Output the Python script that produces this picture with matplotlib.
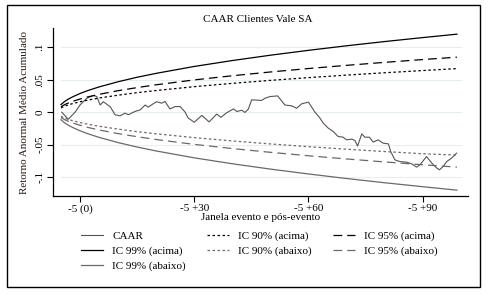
import matplotlib
matplotlib.use('Agg')
import matplotlib.pyplot as plt
from matplotlib.patches import Rectangle

plt.rcParams['font.family'] = ['Liberation Serif', 'DejaVu Serif']

# CAAR
caar_t = [-4.8, -3.1, -1.3, 0.0, 1.8, 3.5, 4.4, 5.3, 6.1, 7.9, 9.2, 10.5, 11.8, 12.7,
          14.4, 15.8, 17.1, 17.9, 19.2, 20.1, 21.5, 22.3, 23.6, 25.0, 26.3, 27.6,
          28.4, 30.0, 32.0, 33.9, 35.9, 37.0, 38.5, 40.3, 41.2, 42.5, 43.3, 44.2,
          45.1, 47.7, 48.6, 49.9, 51.9, 53.8, 55.6, 56.9, 58.2, 60.0, 61.7, 63.0,
          63.9, 65.2, 66.5, 67.8, 69.1, 70.0, 71.4, 72.2, 72.9, 74.0, 74.8, 76.0,
          77.0, 78.3, 79.6, 81.0, 81.6, 82.7, 84.0, 85.8, 87.1, 88.4, 89.3, 91.0,
          92.4, 93.7, 94.4, 95.4, 96.3, 97.6, 98.9]
caar = [0.0, -0.011, 0.0, 0.011, 0.0215, 0.0256, 0.024, 0.011, 0.016, 0.0086, -0.004,
        -0.0057, -0.0015, -0.004, 0.001, 0.0035, 0.011, 0.0077, 0.0128, 0.016, 0.0138,
        0.0165, 0.005, 0.0086, 0.0086, 0.0, -0.009, -0.0155, -0.005, -0.015, -0.003,
        -0.008, -0.001, 0.005, 0.001, 0.003, -0.0005, 0.0046, 0.019, 0.018, 0.0215,
        0.024, 0.025, 0.011, 0.0097, 0.006, 0.0128, 0.0154, 0.0, -0.009, -0.017,
        -0.0246, -0.0298, -0.0375, -0.0385, -0.0426, -0.0415, -0.0437, -0.052, -0.0334,
        -0.0385, -0.0385, -0.046, -0.0426, -0.0477, -0.0488, -0.0606, -0.0734, -0.076,
        -0.077, -0.0795, -0.0846, -0.081, -0.0683, -0.0784, -0.086, -0.0887, -0.0836,
        -0.076, -0.0707, -0.063]

# confidence bands
band_t = [-5, -4, -3, -2, 0, 2, 5, 10, 15, 20, 30, 40, 50, 60, 70, 80, 90, 99]
ic99_up = [0.0117, 0.0166, 0.0203, 0.0234, 0.0287, 0.0331, 0.0388, 0.0468, 0.0537,
           0.0597, 0.0703, 0.0794, 0.0876, 0.0951, 0.1021, 0.1086, 0.1147, 0.1200]
ic95_up = [0.0083, 0.0117, 0.0143, 0.0165, 0.0202, 0.0234, 0.0274, 0.0330, 0.0378,
           0.0421, 0.0496, 0.0560, 0.0618, 0.0671, 0.0720, 0.0766, 0.0809, 0.0846]
ic90_up = [0.0065, 0.0093, 0.0113, 0.0131, 0.0160, 0.0185, 0.0217, 0.0261, 0.0300,
           0.0333, 0.0392, 0.0443, 0.0489, 0.0531, 0.0570, 0.0606, 0.0640, 0.0670]
ic99_dn = [-0.0117, -0.0166, -0.0203, -0.0234, -0.0287, -0.0331, -0.0388, -0.0468,
           -0.0537, -0.0597, -0.0703, -0.0794, -0.0876, -0.0951, -0.1021, -0.1086,
           -0.1147, -0.1200]
ic95_dn = [-0.0083, -0.0117, -0.0143, -0.0165, -0.0202, -0.0234, -0.0274, -0.0330,
           -0.0378, -0.0421, -0.0496, -0.0560, -0.0618, -0.0671, -0.0720, -0.0766,
           -0.0809, -0.0846]
ic90_dn = [-0.0065, -0.0093, -0.0113, -0.0131, -0.0160, -0.0185, -0.0217, -0.0261,
           -0.0300, -0.0333, -0.0392, -0.0443, -0.0489, -0.0531, -0.0570, -0.0606,
           -0.0640, -0.0660]

xticks = [0, 30, 60, 90]
xticklabels = ['-5 (0)', '-5 +30', '-5 +60', '-5 +90']
yticks = [-0.1, -0.05, 0, 0.05, 0.1]
yticklabels = ['-.1', '-.05', '0', '.05', '.1']

fs = 8
fig = plt.figure(figsize=(4.95, 2.96), dpi=100)
ax = fig.add_axes([53/495, 1-196/296, (468-53)/495, (196-28.3)/296])

dark = 'black'
gray = '#6a6a6a'
grid_c = '#e6eef1'

for y in yticks:
    ax.plot([-5, 100], [y, y], color=grid_c, lw=0.8, zorder=0)

l_caar, = ax.plot(caar_t, caar, color='#555555', lw=0.8, label='CAAR')
l99u, = ax.plot(band_t, ic99_up, color=dark, lw=0.9, label='IC 99% (acima)')
l99d, = ax.plot(band_t, ic99_dn, color=gray, lw=0.9, label='IC 99% (abaixo)')
l90u, = ax.plot(band_t, ic90_up, color=dark, lw=0.9, dashes=(2, 2), label='IC 90% (acima)')
l90d, = ax.plot(band_t, ic90_dn, color=gray, lw=0.9, dashes=(2, 2), label='IC 90% (abaixo)')
l95u, = ax.plot(band_t, ic95_up, color=dark, lw=0.9, dashes=(7, 4), label='IC 95% (acima)')
l95d, = ax.plot(band_t, ic95_dn, color=gray, lw=0.9, dashes=(7, 4), label='IC 95% (abaixo)')

ax.set_xlim(-7.1, 101.9)
ax.set_ylim(-0.129, 0.129)
ax.set_xticks(xticks)
ax.set_xticklabels(xticklabels, fontsize=fs)
ax.set_yticks(yticks)
ax.set_yticklabels(yticklabels, fontsize=fs, rotation=90, va='center')
ax.tick_params(axis='both', length=4, width=0.8, pad=2)
for s in ['top', 'right']:
    ax.spines[s].set_visible(False)
for s in ['left', 'bottom']:
    ax.spines[s].set_linewidth(0.9)

ax.set_xlabel('Janela evento e pós-evento', fontsize=fs, labelpad=-1)
ax.set_ylabel('Retorno Anormal Médio Acumulado', fontsize=fs, labelpad=5, color='#2a1a12')
fig.text(0.52, 1-20/296, 'CAAR Clientes Vale SA', fontsize=fs, ha='center', va='center')

handles = [l_caar, l99u, l99d, l90u, l90d, l95u, l95d]
fig.legend(handles=handles, labels=[h.get_label() for h in handles],
           loc='upper left', bbox_to_anchor=(81/495, 1-231/296), ncol=3, frameon=False,
           fontsize=fs, handlelength=2.0, handletextpad=0.8, columnspacing=1.9,
           labelspacing=0.45, borderpad=0, borderaxespad=0)

fig.patches.append(Rectangle((7/495, 1-287/296), (480-7)/495, (287-5)/296,
                             transform=fig.transFigure, fill=False, lw=1, color='black'))

fig.savefig('out.png', dpi=100)
